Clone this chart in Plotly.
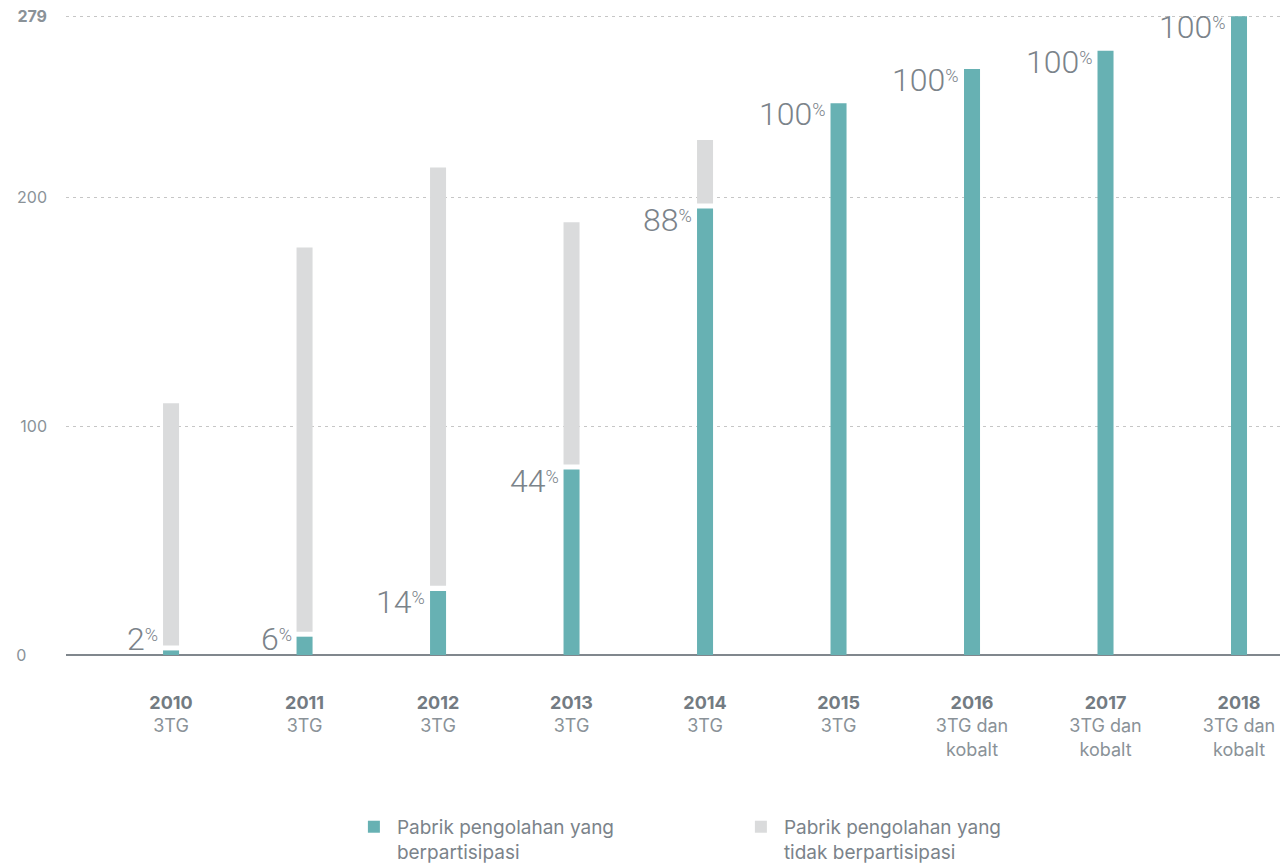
import plotly.graph_objects as go

years = ["2010", "2011", "2012", "2013", "2014", "2015", "2016", "2017", "2018"]
scopes = ["3TG", "3TG", "3TG", "3TG", "3TG", "3TG", "3TG dan<br>kobalt", "3TG dan<br>kobalt", "3TG dan<br>kobalt"]
participating = [2, 8, 28, 81, 195, 241, 256, 264, 279]
non_participating = [108, 170, 185, 108, 30, 0, 0, 0, 0]
pct_labels = ["2", "6", "14", "44", "88", "100", "100", "100", "100"]
y_ticks = [0, 100, 200, 279]

TEAL = "#67b1b3"
GREY = "#dadbdc"
TXT = "#737b82"
TXT2 = "#8a9298"
FONT = "Inter"
PFONT = "Roboto"
GAP = 2.2          # visual white gap between the two segments (axis units)
BAR_W = 0.12

xs = list(range(len(years)))

gray_base = [p + GAP if n > 0 else None for p, n in zip(participating, non_participating)]
gray_h = [n - GAP if n > 0 else None for n in non_participating]

fig = go.Figure()
fig.add_trace(go.Bar(
    x=xs, y=participating, width=BAR_W, marker=dict(color=TEAL, line=dict(width=0)),
    name="Pabrik pengolahan yang<br>berpartisipasi", hoverinfo="skip",
))
fig.add_trace(go.Bar(
    x=xs, y=gray_h, base=gray_base, width=BAR_W, marker=dict(color=GREY, line=dict(width=0)),
    name="Pabrik pengolahan yang<br>tidak berpartisipasi", hoverinfo="skip",
))

for i, (p, lab) in enumerate(zip(participating, pct_labels)):
    fig.add_annotation(
        x=i - BAR_W / 2, y=max(p, 12), xref="x", yref="y",
        xanchor="right", yanchor="top", xshift=-3, yshift=10,
        text=f"{lab}<span style='font-size:18px;baseline-shift:9px'>%</span>", showarrow=False,
        font=dict(family=PFONT, size=32, color="#7b838a", weight=300),
    )

ticktext_x = [f"<b>{y}</b><br><span style='color:{TXT2}'>{s}</span>" for y, s in zip(years, scopes)]
# labels are left-aligned in the reference: pad shorter ones with figure spaces
max_len = max(len(str(v)) for v in y_ticks)
ticktext_y = [
    f"<b>{v}</b>" if v == max(y_ticks) else str(v) + "\u2007" * (max_len - len(str(v)))
    for v in y_ticks
]

# the page places the figure 8px from the top-left corner of the window
fig.update_layout(
    width=1280, height=859,
    margin=dict(l=58, r=4, t=6, b=212, autoexpand=False),
    paper_bgcolor="white", plot_bgcolor="white",
    barmode="overlay",
    font=dict(family=FONT, color=TXT),
    showlegend=True,
    legend=dict(
        orientation="h", x=0.2339, xanchor="left", y=-0.2385, yanchor="top",
        font=dict(family=FONT, size=19, color="#7b838a"),
        valign="top", entrywidth=336, entrywidthmode="pixels", itemwidth=36,
        traceorder="normal",
    ),
    xaxis=dict(
        range=[-0.787, 8.337], tickvals=xs, ticktext=ticktext_x,
        showgrid=False, zeroline=False, showline=False, ticks="",
        tickfont=dict(family=FONT, size=18, color=TXT),
        ticklabelstandoff=35, fixedrange=True, automargin=False,
    ),
    yaxis=dict(
        range=[0, 280], tickvals=y_ticks, ticktext=ticktext_y,
        showgrid=True, gridcolor="#c6c6c6", griddash="3px,4px", gridwidth=1,
        zeroline=True, zerolinecolor="#80878d", zerolinewidth=1.5,
        showline=False, ticks="", ticklabeloverflow="allow",
        tickfont=dict(family=FONT, size=16, color=TXT2),
        ticklabelstandoff=18, fixedrange=True, automargin=False,
    ),
)

fig.write_html("out.html")
